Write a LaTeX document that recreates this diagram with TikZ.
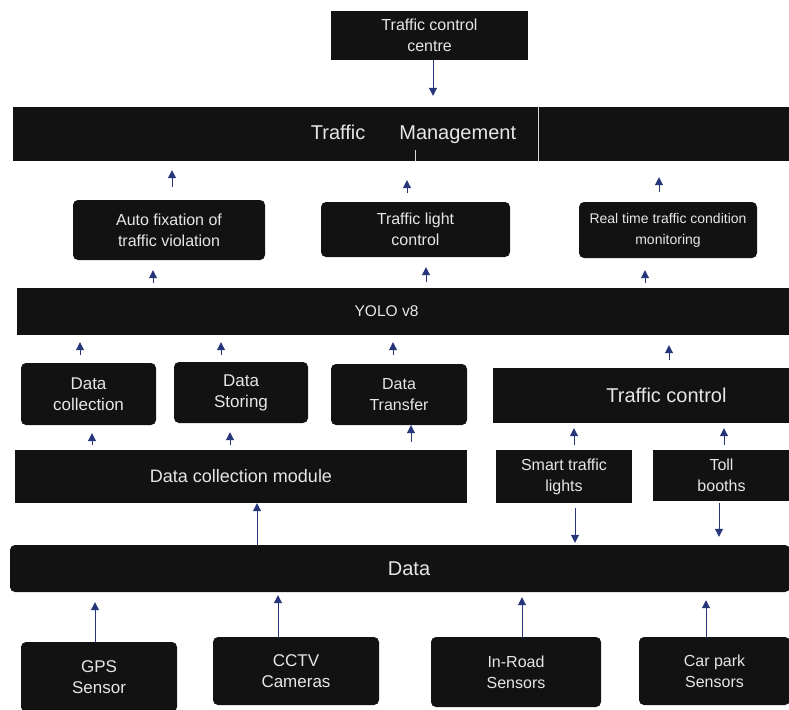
\documentclass[tikz,border=0pt]{standalone}
\usepackage{fontspec}
\setmainfont{Liberation Sans}
\usetikzlibrary{arrows.meta}
\definecolor{boxblack}{HTML}{121212}
\definecolor{txtgray}{HTML}{E6E6E6}
\definecolor{navy}{HTML}{27357A}
\tikzset{
  blk/.style={fill=boxblack, draw=none, text=txtgray, align=center, inner sep=0pt, anchor=center},
  rblk/.style={blk, rounded corners=5pt},
  fs/.style={font=\fontsize{#1}{21}\selectfont},
  arr/.style={draw=navy, line width=1pt, -{Triangle[length=8pt,width=8pt]}},
  divider/.style={draw=white!85!black, line width=0.8pt}
}
\begin{document}
\begin{tikzpicture}[x=1pt,y=-1pt]
\useasboundingbox (0,0) rectangle (789,709);
% top
\node[blk, fs=16, minimum width=197pt, minimum height=49pt] (tcc) at (429.5,35.5) {Traffic control\\centre};
\node[blk, fs=20, minimum width=777pt, minimum height=54pt] (tm) at (401.5,134) {\hspace*{24pt}Traffic\hspace{34pt}Management};
% applications
\node[rblk, fs=16, minimum width=192pt, minimum height=60pt] (auto) at (169,230) {Auto fixation of\\traffic violation};
\node[rblk, fs=16, minimum width=189pt, minimum height=55pt] (tlc) at (415.5,229.5) {Traffic light\\control};
\node[rblk, fs=14, minimum width=178pt, minimum height=56pt] (rt) at (668,230) {Real time traffic condition\\monitoring};
% yolo
\node[blk, fs=15.5, minimum width=773pt, minimum height=47pt] (yolo) at (403.5,311.5) {YOLO v8\hspace*{34pt}};
% data row
\node[rblk, fs=17, minimum width=135pt, minimum height=62pt] (dc) at (88.5,394) {Data\\collection};
\node[rblk, fs=17, minimum width=134pt, minimum height=61pt] (ds) at (241,392.5) {Data\\Storing};
\node[rblk, fs=16, minimum width=136pt, minimum height=61pt] (dt) at (399,394.5) {Data\\Transfer};
\node[blk, fs=20, minimum width=297pt, minimum height=55pt] (tc) at (641.5,395.5) {\hspace*{50pt}Traffic control};
% modules
\node[blk, fs=18, minimum width=452pt, minimum height=53pt] (dcm) at (241,476.5) {Data collection module};
\node[blk, fs=16, minimum width=136pt, minimum height=53pt] (stl) at (564,476.5) {Smart traffic\\lights};
\node[blk, fs=16, minimum width=137pt, minimum height=51pt] (toll) at (721.5,475.5) {Toll\\booths};
% data bar
\node[rblk, fs=20, minimum width=780pt, minimum height=47pt] (data) at (400,568.5) {\hspace*{18pt}Data};
% sensors
\node[rblk, fs=17, minimum width=156pt, minimum height=70pt] (gps) at (99,677) {GPS\\Sensor};
\node[rblk, fs=17, minimum width=166pt, minimum height=68pt] (cctv) at (296,671) {CCTV\\Cameras};
\node[rblk, fs=16, minimum width=170pt, minimum height=70pt] (inroad) at (516,672) {In-Road\\Sensors};
\node[rblk, fs=16, minimum width=151pt, minimum height=68pt] (carpark) at (714.5,671) {Car park\\Sensors};
% dividers in the Traffic Management bar
\draw[divider] ([xshift=136.5pt]tm.north) -- ([xshift=136.5pt]tm.south);
\draw[divider] ([xshift=13.5pt,yshift=11pt]tm.south) -- ([xshift=13.5pt]tm.south);
% arrows
\draw[arr, shorten >=11pt] ([xshift=3.5pt]tcc.south) -- ([xshift=3.5pt]tcc.south |- tm.north);
\draw[arr, shorten <=13pt, shorten >=9pt] ([xshift=3pt]auto.north) -- ([xshift=3pt]auto.north |- tm.south);
\draw[arr, shorten <=9pt, shorten >=19pt] ([xshift=-8.5pt]tlc.north) -- ([xshift=-8.5pt]tlc.north |- tm.south);
\draw[arr, shorten <=10pt, shorten >=16pt] ([xshift=-9pt]rt.north) -- ([xshift=-9pt]rt.north |- tm.south);
\draw[arr, shorten <=5pt, shorten >=10pt] ([xshift=-16pt]auto.south |- yolo.north) -- ([xshift=-16pt]auto.south);
\draw[arr, shorten <=6pt, shorten >=10pt] ([xshift=10.5pt]tlc.south |- yolo.north) -- ([xshift=10.5pt]tlc.south);
\draw[arr, shorten <=5pt, shorten >=12pt] ([xshift=-23pt]rt.south |- yolo.north) -- ([xshift=-23pt]rt.south);
\draw[arr, shorten <=8pt, shorten >=7pt] ([xshift=-8.5pt]dc.north) -- ([xshift=-8.5pt]dc.north |- yolo.south);
\draw[arr, shorten <=7pt, shorten >=7pt] ([xshift=-20pt]ds.north) -- ([xshift=-20pt]ds.north |- yolo.south);
\draw[arr, shorten <=9pt, shorten >=7pt] ([xshift=-6pt]dt.north) -- ([xshift=-6pt]dt.north |- yolo.south);
\draw[arr, shorten <=8pt, shorten >=10pt] ([xshift=27.5pt]tc.north) -- ([xshift=27.5pt]tc.north |- yolo.south);
\draw[arr, shorten <=5pt, shorten >=8pt] ([xshift=3.5pt]dc.south |- dcm.north) -- ([xshift=3.5pt]dc.south);
\draw[arr, shorten <=5pt, shorten >=9pt] ([xshift=-11pt]ds.south |- dcm.north) -- ([xshift=-11pt]ds.south);
\draw[arr, shorten <=8pt] ([xshift=12pt]dt.south |- dcm.north) -- ([xshift=12pt]dt.south);
\draw[arr, shorten <=5pt, shorten >=5pt] ([xshift=10pt]stl.north) -- ([xshift=10pt]stl.north |- tc.south);
\draw[arr, shorten <=5pt, shorten >=5pt] ([xshift=2.5pt]toll.north) -- ([xshift=2.5pt]toll.north |- tc.south);
\draw[arr] ([xshift=16pt]dcm.south |- data.north) -- ([xshift=16pt]dcm.south);
\draw[arr, shorten <=5pt, shorten >=2pt] ([xshift=11pt]stl.south) -- ([xshift=11pt]stl.south |- data.north);
\draw[arr, shorten <=2pt, shorten >=8pt] ([xshift=-2.5pt]toll.south) -- ([xshift=-2.5pt]toll.south |- data.north);
\draw[arr, shorten >=10pt] ([xshift=-4pt]gps.north) -- ([xshift=-4pt]gps.north |- data.south);
\draw[arr, shorten >=3pt] ([xshift=-18pt]cctv.north) -- ([xshift=-18pt]cctv.north |- data.south);
\draw[arr, shorten >=5pt] ([xshift=6pt]inroad.north) -- ([xshift=6pt]inroad.north |- data.south);
\draw[arr, shorten >=8pt] ([xshift=-8.5pt]carpark.north) -- ([xshift=-8.5pt]carpark.north |- data.south);
\end{tikzpicture}
\end{document}
